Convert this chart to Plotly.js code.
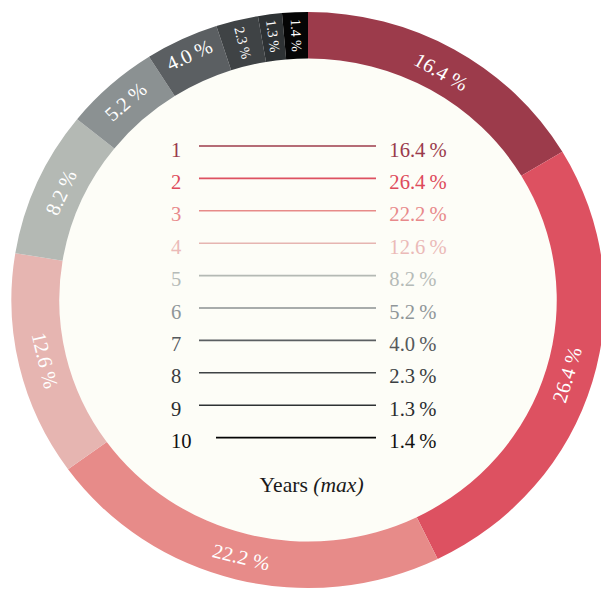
<!DOCTYPE html>
<html>
<head>
<meta charset="utf-8">
<script src="https://cdn.plot.ly/plotly-3.0.1.min.js"></script>
<style>
html,body{margin:0;padding:0;overflow:hidden;background:#fff;width:601px;height:590px;}
#chart{width:601px;height:600px;transform:scaleX(1.03);transform-origin:0 0;}
</style>
</head>
<body>
<div id="chart"></div>
<script>
// Data
var years = ['1','2','3','4','5','6','7','8','9','10'];
var shares = [16.4, 26.4, 22.2, 12.6, 8.2, 5.2, 4.0, 2.3, 1.3, 1.4];
var sliceColors = ['#9c3b4b','#dd5161','#e78b89','#e6b5b1','#b4b9b4','#8b9192','#5b5f62','#3f4345','#2e3234','#050505'];
var textColors = ['#9a3a4c','#de4a5b','#e8898b','#ebbab8','#b5bbb8','#8f9699','#55595c','#3a3e41','#2a2d30','#111111'];
var legendTitle = 'Years <i>(max)</i>';

var SX = 1.03;              // horizontal stretch of the picture
var W = 601, H = 600;
var cx = 308, cy = 300, R = 288, rIn = 241.5;
function px(x){ return (x / SX) / W; }
function py(y){ return 1 - y / H; }

var FONT = '"Liberation Serif", "DejaVu Serif", serif';
var total = shares.reduce(function(a, b){ return a + b; }, 0);
var starts = [], acc = 0;
shares.forEach(function(v){ starts.push(acc / total * 360); acc += v; });
var smallIdx = 7; // slices from here on are labelled radially
// slices crossing the bottom get their label at the slice middle (annotation)
var crossesBottom = shares.map(function(v, i){
  var a0 = starts[i], a1 = a0 + v / total * 360;
  return a0 < 180 && a1 > 180;
});
function tmpl(radial){
  return shares.map(function(v, i){
    if (crossesBottom[i]) return '';
    var isSmall = i >= smallIdx;
    return (isSmall === radial) ? '%{value:.1f} %' : '';
  });
}
var dom = {x: [(cx / SX - R) / W, (cx / SX + R) / W], y: [py(cy + R), py(cy - R)]};

var traceA = {
  type: 'pie', values: shares, labels: years, sort: false,
  direction: 'clockwise', rotation: 0, hole: rIn / R,
  marker: {colors: sliceColors, line: {width: 0}},
  texttemplate: tmpl(false), textposition: 'inside',
  insidetextorientation: 'tangential',
  textfont: {family: FONT, color: '#ffffff', size: 20},
  hoverinfo: 'none', showlegend: false, domain: dom
};
var traceB = {
  type: 'pie', values: shares, labels: years, sort: false,
  direction: 'clockwise', rotation: 0, hole: rIn / R,
  marker: {colors: shares.map(function(){ return 'rgba(0,0,0,0)'; }), line: {width: 0}},
  texttemplate: tmpl(true), textposition: 'inside',
  insidetextorientation: 'radial',
  textfont: {family: FONT, color: '#ffffff', size: 14},
  hoverinfo: 'none', showlegend: false, domain: dom
};

var shapes = [{
  type: 'circle', xref: 'paper', yref: 'paper', layer: 'below',
  x0: (cx / SX - rIn) / W, x1: (cx / SX + rIn) / W, y0: py(cy + rIn), y1: py(cy - rIn),
  fillcolor: '#fdfdf7', line: {width: 0}
}];
var annotations = [];

// labels for slices crossing the bottom, tangential at the slice middle
var rMid = (R + rIn) / 2;
shares.forEach(function(v, i){
  if (!crossesBottom[i]) return;
  var m = starts[i] + v / total * 180;
  var rad = m * Math.PI / 180;
  var ang = m - 180;
  annotations.push({
    xref: 'paper', yref: 'paper',
    x: (cx / SX + rMid * Math.sin(rad)) / W, y: py(cy - rMid * Math.cos(rad)),
    xanchor: 'center', yanchor: 'middle', showarrow: false, textangle: ang,
    text: v.toFixed(1) + ' %', font: {family: FONT, size: 20, color: '#ffffff'}
  });
});

var row0 = 146, rowStep = 32.4;
years.forEach(function(y, i){
  var ly = row0 + i * rowStep;
  var x0 = y.length > 1 ? 216 : 199;
  shapes.push({
    type: 'line', xref: 'paper', yref: 'paper',
    x0: px(x0), x1: px(376), y0: py(ly), y1: py(ly),
    line: {color: sliceColors[i], width: 1.6}
  });
  annotations.push({
    xref: 'paper', yref: 'paper', x: px(169), y: py(ly + 3.5),
    xanchor: 'left', yanchor: 'middle', showarrow: false,
    text: y, font: {family: FONT, size: 20, color: textColors[i]}
  });
  annotations.push({
    xref: 'paper', yref: 'paper', x: px(387), y: py(ly + 3.5),
    xanchor: 'left', yanchor: 'middle', showarrow: false,
    text: shares[i].toFixed(1) + '\u2009%', font: {family: FONT, size: 20, color: textColors[i]}
  });
});
annotations.push({
  xref: 'paper', yref: 'paper', x: px(312), y: py(485),
  xanchor: 'center', yanchor: 'middle', showarrow: false,
  text: legendTitle, font: {family: FONT, size: 21, color: '#1a1a1a'}
});

var layout = {
  width: W, height: H,
  margin: {l: 0, r: 0, t: 0, b: 0},
  paper_bgcolor: '#ffffff',
  showlegend: false,
  shapes: shapes,
  annotations: annotations
};

Plotly.newPlot('chart', [traceA, traceB], layout, {displayModeBar: false, staticPlot: true});
</script>
</body>
</html>
